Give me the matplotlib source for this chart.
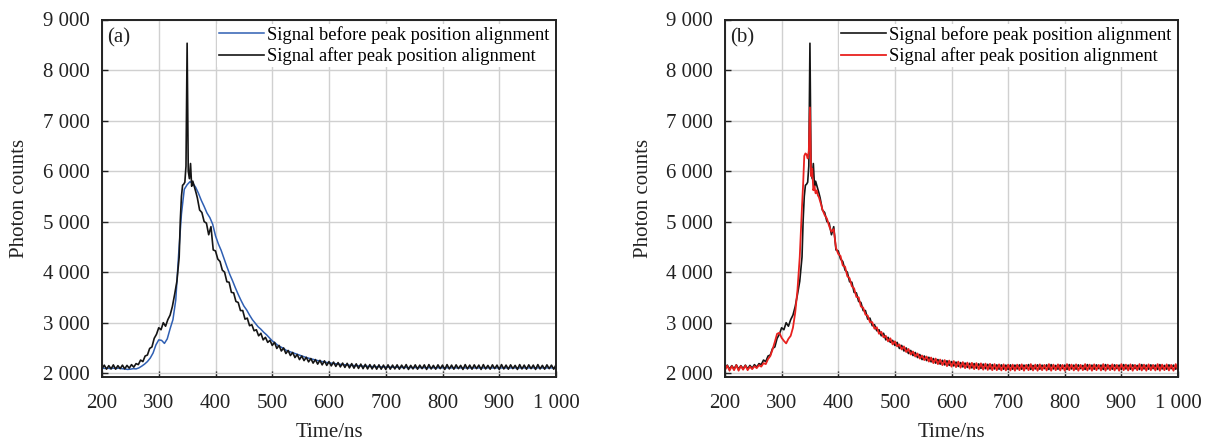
import numpy as np
import matplotlib
matplotlib.use("Agg")
import matplotlib.pyplot as plt
from matplotlib.ticker import FuncFormatter

plt.rcParams['font.family'] = ['Liberation Serif', 'DejaVu Serif']

# time grid of the recorded signal (ns): finer around the peak
t_sig = np.concatenate([np.arange(200, 337, 4),
                        np.arange(338, 373, 2),
                        np.arange(376, 1001, 4)])

# black signal (same trace in both panels)
black_head = [2090, 2160, 2080, 2150, 2085, 2165, 2080, 2150, 2090, 2160,
              2085, 2155, 2100, 2170, 2120, 2190, 2170, 2260, 2230, 2340,
              2360, 2490, 2520, 2690, 2770, 2900, 2860, 3000, 2930, 3060,
              3150, 3320, 3560, 3820, 4300]
black_peak = [5030, 5500, 5720, 5740, 5780, 6100, 8530, 6000, 5850, 6150,
              5700, 5800, 5720, 5640, 5560, 5470, 5350, 5230]
black_tail = [5180, 5000, 4970, 4740, 4900, 4440, 4420, 4260, 4210, 4040,
              4000, 3810, 3800, 3600, 3590, 3420, 3400, 3240, 3240, 3070,
              3090, 2940, 2960, 2840, 2860, 2740, 2790, 2660, 2710, 2610,
              2650, 2550, 2610, 2490, 2550, 2440, 2500, 2390, 2450, 2350,
              2410, 2310, 2370, 2270, 2340, 2250, 2315, 2225, 2290, 2200,
              2270, 2180, 2255, 2165, 2245, 2155, 2230, 2145, 2220, 2135,
              2210, 2125, 2200, 2115, 2195, 2105, 2190, 2100, 2185, 2095,
              2180, 2090, 2175, 2085, 2170, 2085, 2165, 2080, 2165, 2080,
              2160, 2075, 2165, 2080, 2160,
              2085, 2165, 2080, 2160, 2090, 2170, 2075, 2155, 2085, 2165,
              2080, 2160, 2090, 2165, 2075, 2170, 2085, 2155, 2080, 2165,
              2090, 2160, 2075, 2170, 2085, 2160, 2080, 2165, 2090, 2155,
              2075, 2170, 2085, 2160, 2080, 2165, 2090, 2160, 2075, 2170,
              2085, 2155, 2080, 2165, 2090, 2160, 2075, 2170, 2085, 2160,
              2080, 2165, 2090, 2155, 2075, 2170, 2085, 2160, 2080, 2165,
              2090, 2160, 2075, 2170, 2085, 2155, 2080, 2165, 2090, 2160,
              2080, 2165]
black_counts = black_head + black_peak + black_tail

# red signal (panel b)
red_head = [2060, 2150, 2050, 2140, 2060, 2160, 2050, 2140, 2070, 2150,
            2060, 2130, 2080, 2140, 2100, 2160, 2130, 2200, 2180, 2280,
            2340, 2470, 2620, 2780, 2800, 2700, 2640, 2590, 2680, 2740,
            2900, 3200, 3650, 4300, 5300]
red_peak = [5750, 6300, 6350, 6330, 6250, 6400, 7260, 5900, 6050, 5620,
            5700, 5560, 5620, 5520, 5480, 5400, 5330, 5240]
red_tail = [5130, 5060, 4910, 4800, 4850, 4480, 4360, 4320, 4130, 4110,
            3920, 3880, 3720, 3680, 3510, 3500, 3320, 3300, 3160, 3140,
            3010, 3010, 2880, 2910, 2780, 2820, 2710, 2740, 2630, 2690,
            2570, 2630, 2530, 2570, 2470, 2530, 2420, 2480, 2370, 2430,
            2330, 2390, 2290, 2350, 2260, 2330, 2230, 2310, 2200, 2290,
            2180, 2270, 2160, 2260, 2140, 2250, 2130, 2240, 2120, 2230,
            2110, 2220, 2100, 2210, 2090, 2205, 2080, 2200, 2075, 2195,
            2070, 2190, 2065, 2185, 2060, 2180, 2060, 2175, 2055, 2175,
            2055, 2170, 2055, 2170, 2050,
            2170, 2060, 2175, 2050, 2165, 2060, 2180, 2055, 2170, 2050,
            2175, 2060, 2165, 2055, 2180, 2050, 2170, 2060, 2175, 2055,
            2165, 2050, 2180, 2060, 2170, 2055, 2175, 2050, 2165, 2060,
            2180, 2055, 2170, 2050, 2175, 2060, 2165, 2055, 2180, 2050,
            2170, 2060, 2175, 2055, 2165, 2050, 2180, 2060, 2170, 2055,
            2175, 2050, 2165, 2060, 2180, 2055, 2170, 2050, 2175, 2060,
            2165, 2055, 2180, 2050, 2170, 2060, 2175, 2055, 2165, 2050,
            2180, 2060]
red_counts = red_head + red_peak + red_tail

# blue signal (panel a), smoother trace
t_blue = np.concatenate([np.arange(200, 601, 5), np.arange(620, 1001, 20)])
blue_counts = [2100, 2095, 2100, 2090, 2100, 2095, 2100, 2090, 2085, 2075,
               2080, 2090, 2085, 2105, 2140, 2180, 2230, 2300, 2400, 2560,
               2660, 2650, 2590, 2680, 2880, 3060, 3450, 4350, 5150, 5640,
               5730, 5790, 5760, 5680, 5560, 5420, 5300, 5170, 5080, 4950,
               4720, 4560, 4430, 4270, 4110, 3960, 3830, 3690, 3560, 3440,
               3330, 3250, 3150, 3060, 2990, 2920, 2870, 2810, 2760, 2700,
               2640, 2600, 2550, 2520, 2490, 2450, 2430, 2410, 2390, 2370,
               2350, 2330, 2310, 2295, 2280, 2265, 2250, 2240, 2225, 2215,
               2205,
               2175, 2155, 2140, 2130, 2122, 2116, 2112, 2110, 2108, 2107,
               2106, 2105, 2105, 2105, 2105, 2105, 2105, 2105, 2105, 2105]

lbl_before = 'Signal before peak position alignment'
lbl_after = 'Signal after peak position alignment'
x_ticks = list(range(200, 1001, 100))
y_ticks = list(range(2000, 9001, 1000))


def space_thousands(v, pos):
    return f"{int(round(v)):,}".replace(",", " ")


def style(ax, tag):
    ax.set_xlim(200, 1000)
    ax.set_ylim(1925, 9000)
    ax.set_xticks(x_ticks)
    ax.set_yticks(y_ticks)
    ax.xaxis.set_major_formatter(FuncFormatter(space_thousands))
    ax.yaxis.set_major_formatter(FuncFormatter(space_thousands))
    ax.tick_params(direction='in', length=4, width=1, labelsize=15,
                   colors='#222222')
    ax.tick_params(axis='x', pad=12)
    ax.tick_params(axis='y', pad=9)
    ax.grid(True, color='#d0d0d0', lw=1.0)
    ax.set_axisbelow(True)
    for s in ax.spines.values():
        s.set_linewidth(1.4)
        s.set_color('#222222')
    ax.set_xlabel('Time/ns', fontsize=15, color='#222222')
    ax.set_ylabel('Photon counts', fontsize=15, color='#222222')
    ax.xaxis.set_label_coords(0.5, -0.13)
    ax.yaxis.set_label_coords(-0.16, 0.5)
    ax.text(0.012, 0.975, tag, transform=ax.transAxes, fontsize=15,
            va='top', color='#222222')
    ax.legend(loc='upper right', fontsize=13.3, frameon=True, facecolor='white',
              edgecolor='none', framealpha=1, fancybox=False,
              handlelength=2.45, handletextpad=0.15, labelspacing=0.2,
              borderpad=0.1, borderaxespad=0.25)


fig = plt.figure(figsize=(12.11, 4.41), dpi=100)
ax1 = fig.add_axes([102 / 1211, 64 / 441, 454 / 1211, 357.5 / 441])
ax2 = fig.add_axes([725 / 1211, 64 / 441, 453 / 1211, 357.5 / 441])

ax1.plot(t_blue, blue_counts, color='#2f5fb3', lw=1.1, label=lbl_before)
ax1.plot(t_sig, black_counts, color='#151515', lw=1.2, label=lbl_after)
style(ax1, '(a)')

ax2.plot(t_sig, black_counts, color='#151515', lw=1.2, label=lbl_before)
ax2.plot(t_sig, red_counts, color='#e8211f', lw=1.3, label=lbl_after)
style(ax2, '(b)')

fig.savefig('out.png', dpi=100)
